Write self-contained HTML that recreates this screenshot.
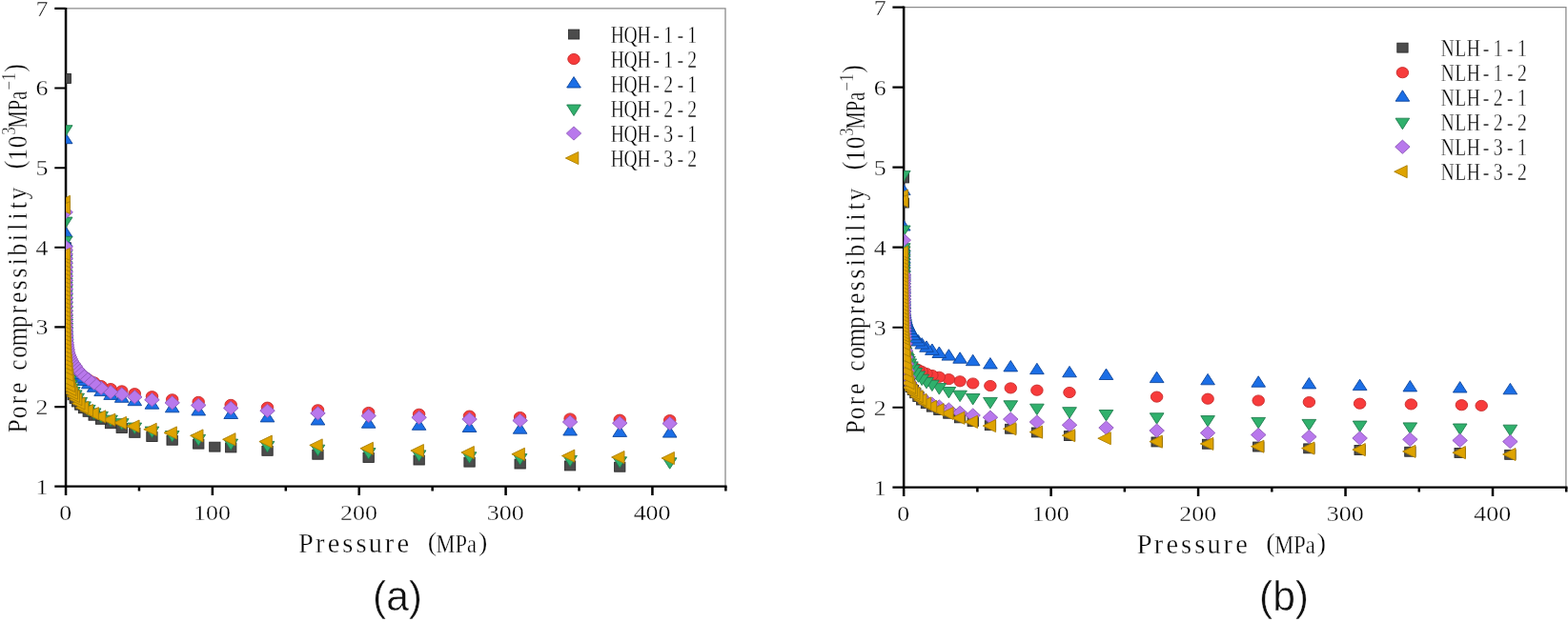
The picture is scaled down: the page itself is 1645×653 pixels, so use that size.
<!DOCTYPE html>
<html lang="en">
<head>
<meta charset="utf-8">
<title>Pore compressibility versus pressure</title>
<style>
html,body{margin:0;padding:0;background:#fff}
body{width:1645px;height:653px;overflow:hidden}
svg{display:block}
text{white-space:pre;fill:#000;font-family:"Liberation Serif",serif}
.thin{stroke:#fff;stroke-width:0.35px}
.tick{font-size:23.6px;text-anchor:middle}
.cap{font-family:"Liberation Sans",sans-serif;font-size:42.6px;text-anchor:middle;fill:#111;stroke:#fff;stroke-width:0.5px}
.sq{fill:#4c4c4c;stroke:#2b2b2b;stroke-width:0.9px}
.ci{fill:#f73b3b;stroke:#c62d2d;stroke-width:0.9px}
.up{fill:#1b6ee6;stroke:#0f459a;stroke-width:0.9px}
.dn{fill:#30b06c;stroke:#1f7d4e;stroke-width:0.9px}
.di{fill:#b878ec;stroke:#8d59b9;stroke-width:0.9px}
.lt{fill:#dea300;stroke:#aa7f04;stroke-width:0.9px}
</style>
</head>
<body>
<svg width="1645" height="653" viewBox="0 0 1645 653" role="img" aria-label="Pore compressibility versus pressure for HQH and NLH samples">
<rect width="1645" height="653" fill="#fff"/>
<g id="plot-a">
<path d="M68.7 8.9H761.0V510.7" fill="none" stroke="#8c8c8c" stroke-width="1.3"/>
<path d="M69.05 7.9V520.1" fill="none" stroke="#000" stroke-width="2.5"/>
<path d="M57.3 510.7H762.6" fill="none" stroke="#000" stroke-width="2.3"/>
<path d="M57.3 427.1H68.7M57.3 343.4H68.7M57.3 259.8H68.7M57.3 176.2H68.7M57.3 92.5H68.7M57.3 8.9H68.7" fill="none" stroke="#000" stroke-width="2.1"/>
<path d="M222.89 510.7V520.1M376.74 510.7V520.1M530.58 510.7V520.1M684.43 510.7V520.1M145.97 510.7V515.5M299.82 510.7V515.5M453.66 510.7V515.5M607.51 510.7V515.5M761.35 510.7V515.5" fill="none" stroke="#000" stroke-width="2.5"/>
<clipPath id="clip-a"><rect x="69.2" y="8.9" width="692.3" height="501.8"/></clipPath>
<g clip-path="url(#clip-a)">
<rect class="sq" x="644.6" y="485.3" width="11.3" height="9.9"/>
<rect class="sq" x="592.4" y="484.0" width="11.3" height="9.9"/>
<rect class="sq" x="540.0" y="482.1" width="11.3" height="9.9"/>
<rect class="sq" x="486.9" y="480.2" width="11.3" height="9.9"/>
<rect class="sq" x="434.0" y="478.1" width="11.3" height="9.9"/>
<rect class="sq" x="381.0" y="475.5" width="11.3" height="9.9"/>
<rect class="sq" x="327.8" y="472.3" width="11.3" height="9.9"/>
<rect class="sq" x="274.9" y="468.4" width="11.3" height="9.9"/>
<rect class="sq" x="236.6" y="465.0" width="11.3" height="9.9"/>
<rect class="sq" x="202.6" y="461.2" width="11.3" height="9.9"/>
<rect class="sq" x="175.0" y="457.3" width="11.3" height="9.9"/>
<rect class="sq" x="153.8" y="453.6" width="11.3" height="9.9"/>
<rect class="sq" x="135.7" y="449.4" width="11.3" height="9.9"/>
<rect class="sq" x="122.1" y="444.5" width="11.3" height="9.9"/>
<rect class="sq" x="110.4" y="439.8" width="11.3" height="9.9"/>
<rect class="sq" x="100.4" y="435.4" width="11.3" height="9.9"/>
<rect class="sq" x="93.0" y="431.3" width="11.3" height="9.9"/>
<rect class="sq" x="87.1" y="427.4" width="11.3" height="9.9"/>
<rect class="sq" x="82.4" y="423.8" width="11.3" height="9.9"/>
<rect class="sq" x="78.6" y="420.3" width="11.3" height="9.9"/>
<rect class="sq" x="75.5" y="417.0" width="11.3" height="9.9"/>
<rect class="sq" x="73.1" y="413.5" width="11.3" height="9.9"/>
<rect class="sq" x="71.1" y="409.8" width="11.3" height="9.9"/>
<rect class="sq" x="69.5" y="406.1" width="11.3" height="9.9"/>
<rect class="sq" x="68.2" y="402.4" width="11.3" height="9.9"/>
<rect class="sq" x="67.2" y="398.5" width="11.3" height="9.9"/>
<rect class="sq" x="66.4" y="394.5" width="11.3" height="9.9"/>
<rect class="sq" x="65.7" y="390.5" width="11.3" height="9.9"/>
<rect class="sq" x="65.2" y="386.5" width="11.3" height="9.9"/>
<rect class="sq" x="64.8" y="382.5" width="11.3" height="9.9"/>
<rect class="sq" x="64.4" y="377.6" width="11.3" height="9.9"/>
<rect class="sq" x="64.2" y="371.5" width="11.3" height="9.9"/>
<rect class="sq" x="64.0" y="365.4" width="11.3" height="9.9"/>
<rect class="sq" x="63.8" y="359.3" width="11.3" height="9.9"/>
<rect class="sq" x="63.6" y="353.2" width="11.3" height="9.9"/>
<rect class="sq" x="63.5" y="347.1" width="11.3" height="9.9"/>
<rect class="sq" x="63.4" y="342.4" width="11.3" height="9.9"/>
<rect class="sq" x="63.4" y="337.7" width="11.3" height="9.9"/>
<rect class="sq" x="63.3" y="333.1" width="11.3" height="9.9"/>
<rect class="sq" x="63.2" y="328.4" width="11.3" height="9.9"/>
<rect class="sq" x="63.2" y="323.7" width="11.3" height="9.9"/>
<rect class="sq" x="63.2" y="319.1" width="11.3" height="9.9"/>
<rect class="sq" x="63.2" y="314.4" width="11.3" height="9.9"/>
<rect class="sq" x="63.1" y="309.7" width="11.3" height="9.9"/>
<rect class="sq" x="63.1" y="305.1" width="11.3" height="9.9"/>
<rect class="sq" x="63.1" y="300.4" width="11.3" height="9.9"/>
<rect class="sq" x="63.1" y="295.7" width="11.3" height="9.9"/>
<rect class="sq" x="63.1" y="291.0" width="11.3" height="9.9"/>
<rect class="sq" x="63.1" y="286.4" width="11.3" height="9.9"/>
<rect class="sq" x="63.1" y="281.7" width="11.3" height="9.9"/>
<rect class="sq" x="63.1" y="277.0" width="11.3" height="9.9"/>
<rect class="sq" x="63.1" y="272.4" width="11.3" height="9.9"/>
<rect class="sq" x="63.1" y="267.7" width="11.3" height="9.9"/>
<rect class="sq" x="63.1" y="263.0" width="11.3" height="9.9"/>
<rect class="sq" x="63.1" y="258.4" width="11.3" height="9.9"/>
<rect class="sq" x="63.1" y="254.8" width="11.3" height="9.9"/>
<rect class="sq" x="63.1" y="77.5" width="11.3" height="9.9"/>
<rect class="sq" x="219.7" y="464.2" width="11.3" height="9.9"/>
<ellipse class="ci" cx="702.7" cy="441.1" rx="6.25" ry="5.60"/>
<ellipse class="ci" cx="650.2" cy="440.7" rx="6.25" ry="5.60"/>
<ellipse class="ci" cx="598.1" cy="439.5" rx="6.25" ry="5.60"/>
<ellipse class="ci" cx="545.6" cy="438.0" rx="6.25" ry="5.60"/>
<ellipse class="ci" cx="492.5" cy="436.6" rx="6.25" ry="5.60"/>
<ellipse class="ci" cx="439.6" cy="434.8" rx="6.25" ry="5.60"/>
<ellipse class="ci" cx="386.7" cy="433.0" rx="6.25" ry="5.60"/>
<ellipse class="ci" cx="333.5" cy="430.3" rx="6.25" ry="5.60"/>
<ellipse class="ci" cx="280.5" cy="427.7" rx="6.25" ry="5.60"/>
<ellipse class="ci" cx="242.2" cy="424.9" rx="6.25" ry="5.60"/>
<ellipse class="ci" cx="208.2" cy="421.9" rx="6.25" ry="5.60"/>
<ellipse class="ci" cx="180.7" cy="419.3" rx="6.25" ry="5.60"/>
<ellipse class="ci" cx="159.5" cy="416.2" rx="6.25" ry="5.60"/>
<ellipse class="ci" cx="141.3" cy="413.2" rx="6.25" ry="5.60"/>
<ellipse class="ci" cx="127.8" cy="410.4" rx="6.25" ry="5.60"/>
<ellipse class="ci" cx="116.1" cy="408.1" rx="6.25" ry="5.60"/>
<ellipse class="ci" cx="106.1" cy="405.1" rx="6.25" ry="5.60"/>
<ellipse class="ci" cx="98.7" cy="401.4" rx="6.25" ry="5.60"/>
<ellipse class="ci" cx="92.8" cy="398.5" rx="6.25" ry="5.60"/>
<ellipse class="ci" cx="88.1" cy="395.5" rx="6.25" ry="5.60"/>
<ellipse class="ci" cx="84.2" cy="392.3" rx="6.25" ry="5.60"/>
<ellipse class="ci" cx="81.2" cy="388.7" rx="6.25" ry="5.60"/>
<ellipse class="ci" cx="78.7" cy="385.2" rx="6.25" ry="5.60"/>
<ellipse class="ci" cx="76.8" cy="382.6" rx="6.25" ry="5.60"/>
<ellipse class="ci" cx="75.2" cy="380.0" rx="6.25" ry="5.60"/>
<ellipse class="ci" cx="73.9" cy="377.6" rx="6.25" ry="5.60"/>
<ellipse class="ci" cx="72.9" cy="375.4" rx="6.25" ry="5.60"/>
<ellipse class="ci" cx="72.1" cy="373.1" rx="6.25" ry="5.60"/>
<ellipse class="ci" cx="71.4" cy="370.5" rx="6.25" ry="5.60"/>
<ellipse class="ci" cx="70.9" cy="367.9" rx="6.25" ry="5.60"/>
<ellipse class="ci" cx="70.4" cy="365.3" rx="6.25" ry="5.60"/>
<ellipse class="ci" cx="70.1" cy="362.9" rx="6.25" ry="5.60"/>
<ellipse class="ci" cx="69.8" cy="360.6" rx="6.25" ry="5.60"/>
<ellipse class="ci" cx="69.6" cy="357.1" rx="6.25" ry="5.60"/>
<ellipse class="ci" cx="69.4" cy="353.3" rx="6.25" ry="5.60"/>
<ellipse class="ci" cx="69.3" cy="349.5" rx="6.25" ry="5.60"/>
<ellipse class="ci" cx="69.2" cy="345.8" rx="6.25" ry="5.60"/>
<ellipse class="ci" cx="69.1" cy="342.0" rx="6.25" ry="5.60"/>
<ellipse class="ci" cx="69.0" cy="338.2" rx="6.25" ry="5.60"/>
<ellipse class="ci" cx="68.9" cy="334.5" rx="6.25" ry="5.60"/>
<ellipse class="ci" cx="68.9" cy="330.7" rx="6.25" ry="5.60"/>
<ellipse class="ci" cx="68.9" cy="326.9" rx="6.25" ry="5.60"/>
<ellipse class="ci" cx="68.8" cy="322.4" rx="6.25" ry="5.60"/>
<ellipse class="ci" cx="68.8" cy="317.9" rx="6.25" ry="5.60"/>
<ellipse class="ci" cx="68.8" cy="313.3" rx="6.25" ry="5.60"/>
<ellipse class="ci" cx="68.8" cy="308.8" rx="6.25" ry="5.60"/>
<ellipse class="ci" cx="68.8" cy="304.2" rx="6.25" ry="5.60"/>
<ellipse class="ci" cx="68.7" cy="299.7" rx="6.25" ry="5.60"/>
<ellipse class="ci" cx="68.7" cy="295.1" rx="6.25" ry="5.60"/>
<ellipse class="ci" cx="68.7" cy="290.6" rx="6.25" ry="5.60"/>
<ellipse class="ci" cx="68.7" cy="286.0" rx="6.25" ry="5.60"/>
<ellipse class="ci" cx="68.7" cy="281.4" rx="6.25" ry="5.60"/>
<ellipse class="ci" cx="68.7" cy="276.9" rx="6.25" ry="5.60"/>
<ellipse class="ci" cx="68.7" cy="272.3" rx="6.25" ry="5.60"/>
<ellipse class="ci" cx="68.7" cy="267.8" rx="6.25" ry="5.60"/>
<ellipse class="ci" cx="68.7" cy="263.2" rx="6.25" ry="5.60"/>
<ellipse class="ci" cx="68.7" cy="259.8" rx="6.25" ry="5.60"/>
<path class="up" d="M695.4 459.1L710.0 459.1L702.7 447.6Z"/>
<path class="up" d="M642.9 458.4L657.6 458.4L650.2 447.0Z"/>
<path class="up" d="M590.8 457.0L605.4 457.0L598.1 445.6Z"/>
<path class="up" d="M538.3 455.2L552.9 455.2L545.6 443.8Z"/>
<path class="up" d="M485.2 453.5L499.9 453.5L492.5 442.1Z"/>
<path class="up" d="M432.3 451.3L446.9 451.3L439.6 439.9Z"/>
<path class="up" d="M379.4 449.2L394.0 449.2L386.7 437.8Z"/>
<path class="up" d="M326.1 446.0L340.8 446.0L333.5 434.6Z"/>
<path class="up" d="M273.2 442.9L287.9 442.9L280.5 431.5Z"/>
<path class="up" d="M234.9 439.5L249.6 439.5L242.2 428.1Z"/>
<path class="up" d="M200.9 436.0L215.6 436.0L208.2 424.5Z"/>
<path class="up" d="M173.4 432.8L188.0 432.8L180.7 421.4Z"/>
<path class="up" d="M152.1 429.2L166.8 429.2L159.5 417.8Z"/>
<path class="up" d="M134.0 425.7L148.6 425.7L141.3 414.2Z"/>
<path class="up" d="M120.4 422.3L135.1 422.3L127.8 410.9Z"/>
<path class="up" d="M108.8 419.4L123.4 419.4L116.1 407.9Z"/>
<path class="up" d="M98.8 415.6L113.4 415.6L106.1 404.2Z"/>
<path class="up" d="M91.4 411.3L106.0 411.3L98.7 399.9Z"/>
<path class="up" d="M85.5 407.8L100.1 407.8L92.8 396.4Z"/>
<path class="up" d="M80.7 404.5L95.4 404.5L88.1 393.1Z"/>
<path class="up" d="M76.9 401.3L91.6 401.3L84.2 389.9Z"/>
<path class="up" d="M73.9 397.7L88.5 397.7L81.2 386.3Z"/>
<path class="up" d="M71.4 394.2L86.1 394.2L78.7 382.8Z"/>
<path class="up" d="M69.4 391.7L84.1 391.7L76.8 380.2Z"/>
<path class="up" d="M67.8 389.1L82.5 389.1L75.2 377.6Z"/>
<path class="up" d="M66.6 386.7L81.2 386.7L73.9 375.3Z"/>
<path class="up" d="M65.5 384.4L80.2 384.4L72.9 373.0Z"/>
<path class="up" d="M64.7 382.2L79.4 382.2L72.1 370.7Z"/>
<path class="up" d="M64.1 379.6L78.7 379.6L71.4 368.2Z"/>
<path class="up" d="M63.5 377.0L78.2 377.0L70.9 365.6Z"/>
<path class="up" d="M63.1 374.4L77.8 374.4L70.4 363.0Z"/>
<path class="up" d="M62.8 372.0L77.4 372.0L70.1 360.6Z"/>
<path class="up" d="M62.5 369.7L77.1 369.7L69.8 358.2Z"/>
<path class="up" d="M62.3 366.1L76.9 366.1L69.6 354.7Z"/>
<path class="up" d="M62.1 362.4L76.7 362.4L69.4 351.0Z"/>
<path class="up" d="M62.0 358.6L76.6 358.6L69.3 347.2Z"/>
<path class="up" d="M61.8 354.8L76.5 354.8L69.2 343.4Z"/>
<path class="up" d="M61.7 351.1L76.4 351.1L69.1 339.7Z"/>
<path class="up" d="M61.7 347.3L76.3 347.3L69.0 335.9Z"/>
<path class="up" d="M61.6 343.5L76.3 343.5L68.9 332.1Z"/>
<path class="up" d="M61.6 339.8L76.2 339.8L68.9 328.4Z"/>
<path class="up" d="M61.5 336.0L76.2 336.0L68.9 324.6Z"/>
<path class="up" d="M61.5 331.5L76.2 331.5L68.8 320.1Z"/>
<path class="up" d="M61.5 327.0L76.1 327.0L68.8 315.5Z"/>
<path class="up" d="M61.5 322.4L76.1 322.4L68.8 311.0Z"/>
<path class="up" d="M61.4 317.8L76.1 317.8L68.8 306.4Z"/>
<path class="up" d="M61.4 313.3L76.1 313.3L68.8 301.9Z"/>
<path class="up" d="M61.4 308.7L76.1 308.7L68.7 297.3Z"/>
<path class="up" d="M61.4 304.2L76.1 304.2L68.7 292.8Z"/>
<path class="up" d="M61.4 299.6L76.1 299.6L68.7 288.2Z"/>
<path class="up" d="M61.4 295.1L76.0 295.1L68.7 283.6Z"/>
<path class="up" d="M61.4 290.5L76.0 290.5L68.7 279.1Z"/>
<path class="up" d="M61.4 286.0L76.0 286.0L68.7 274.5Z"/>
<path class="up" d="M61.4 281.4L76.0 281.4L68.7 270.0Z"/>
<path class="up" d="M61.4 276.8L76.0 276.8L68.7 265.4Z"/>
<path class="up" d="M61.4 272.3L76.0 272.3L68.7 260.9Z"/>
<path class="up" d="M61.4 268.9L76.0 268.9L68.7 257.5Z"/>
<path class="up" d="M61.4 150.7L76.0 150.7L68.7 139.3Z"/>
<path class="up" d="M61.4 248.8L76.0 248.8L68.7 237.4Z"/>
<path class="up" d="M61.4 258.8L76.0 258.8L68.7 247.4Z"/>
<path class="dn" d="M695.4 480.8L710.0 480.8L702.7 492.2Z"/>
<path class="dn" d="M642.9 479.8L657.6 479.8L650.2 491.2Z"/>
<path class="dn" d="M590.8 478.4L605.4 478.4L598.1 489.8Z"/>
<path class="dn" d="M538.3 476.6L552.9 476.6L545.6 488.1Z"/>
<path class="dn" d="M485.2 474.8L499.9 474.8L492.5 486.2Z"/>
<path class="dn" d="M432.3 472.9L446.9 472.9L439.6 484.3Z"/>
<path class="dn" d="M379.4 470.6L394.0 470.6L386.7 482.0Z"/>
<path class="dn" d="M326.1 467.2L340.8 467.2L333.5 478.6Z"/>
<path class="dn" d="M273.2 463.4L287.9 463.4L280.5 474.8Z"/>
<path class="dn" d="M234.9 461.1L249.6 461.1L242.2 472.5Z"/>
<path class="dn" d="M200.9 456.4L215.6 456.4L208.2 467.9Z"/>
<path class="dn" d="M173.4 452.5L188.0 452.5L180.7 463.9Z"/>
<path class="dn" d="M152.1 448.1L166.8 448.1L159.5 459.5Z"/>
<path class="dn" d="M134.0 444.1L148.6 444.1L141.3 455.5Z"/>
<path class="dn" d="M120.4 439.7L135.1 439.7L127.8 451.2Z"/>
<path class="dn" d="M108.8 436.2L123.4 436.2L116.1 447.6Z"/>
<path class="dn" d="M98.8 432.4L113.4 432.4L106.1 443.8Z"/>
<path class="dn" d="M91.4 428.9L106.0 428.9L98.7 440.3Z"/>
<path class="dn" d="M85.5 425.4L100.1 425.4L92.8 436.8Z"/>
<path class="dn" d="M80.7 421.9L95.4 421.9L88.1 433.3Z"/>
<path class="dn" d="M76.9 417.5L91.6 417.5L84.2 428.9Z"/>
<path class="dn" d="M73.9 413.2L88.5 413.2L81.2 424.7Z"/>
<path class="dn" d="M71.4 409.9L86.1 409.9L78.7 421.3Z"/>
<path class="dn" d="M69.4 406.6L84.1 406.6L76.8 418.0Z"/>
<path class="dn" d="M67.8 403.1L82.5 403.1L75.2 414.5Z"/>
<path class="dn" d="M66.6 399.3L81.2 399.3L73.9 410.7Z"/>
<path class="dn" d="M65.5 394.5L80.2 394.5L72.9 405.9Z"/>
<path class="dn" d="M64.7 388.6L79.4 388.6L72.1 400.0Z"/>
<path class="dn" d="M64.1 382.6L78.7 382.6L71.4 394.1Z"/>
<path class="dn" d="M63.5 378.3L78.2 378.3L70.9 389.7Z"/>
<path class="dn" d="M63.1 374.0L77.8 374.0L70.4 385.4Z"/>
<path class="dn" d="M62.8 369.7L77.4 369.7L70.1 381.1Z"/>
<path class="dn" d="M62.5 365.4L77.1 365.4L69.8 376.8Z"/>
<path class="dn" d="M62.3 361.0L76.9 361.0L69.6 372.5Z"/>
<path class="dn" d="M62.1 356.7L76.7 356.7L69.4 368.1Z"/>
<path class="dn" d="M62.0 352.4L76.6 352.4L69.3 363.8Z"/>
<path class="dn" d="M61.8 348.1L76.5 348.1L69.2 359.5Z"/>
<path class="dn" d="M61.7 343.8L76.4 343.8L69.1 355.2Z"/>
<path class="dn" d="M61.7 339.4L76.3 339.4L69.0 350.9Z"/>
<path class="dn" d="M61.6 335.1L76.3 335.1L68.9 346.6Z"/>
<path class="dn" d="M61.6 330.8L76.2 330.8L68.9 342.2Z"/>
<path class="dn" d="M61.5 326.5L76.2 326.5L68.9 337.9Z"/>
<path class="dn" d="M61.5 322.2L76.2 322.2L68.8 333.6Z"/>
<path class="dn" d="M61.5 317.9L76.1 317.9L68.8 329.3Z"/>
<path class="dn" d="M61.5 313.6L76.1 313.6L68.8 325.0Z"/>
<path class="dn" d="M61.4 309.3L76.1 309.3L68.8 320.7Z"/>
<path class="dn" d="M61.4 305.0L76.1 305.0L68.8 316.4Z"/>
<path class="dn" d="M61.4 300.7L76.1 300.7L68.7 312.1Z"/>
<path class="dn" d="M61.4 296.4L76.1 296.4L68.7 307.8Z"/>
<path class="dn" d="M61.4 292.0L76.1 292.0L68.7 303.5Z"/>
<path class="dn" d="M61.4 287.7L76.0 287.7L68.7 299.2Z"/>
<path class="dn" d="M61.4 283.4L76.0 283.4L68.7 294.8Z"/>
<path class="dn" d="M61.4 279.1L76.0 279.1L68.7 290.5Z"/>
<path class="dn" d="M61.4 274.8L76.0 274.8L68.7 286.2Z"/>
<path class="dn" d="M61.4 270.5L76.0 270.5L68.7 281.9Z"/>
<path class="dn" d="M61.4 266.2L76.0 266.2L68.7 277.6Z"/>
<path class="dn" d="M61.4 263.0L76.0 263.0L68.7 274.4Z"/>
<path class="dn" d="M61.4 131.7L76.0 131.7L68.7 143.1Z"/>
<path class="dn" d="M61.4 228.1L76.0 228.1L68.7 239.5Z"/>
<path class="dn" d="M61.4 248.3L76.0 248.3L68.7 259.7Z"/>
<path class="di" d="M695.0 444.6L702.7 437.5L710.4 444.6L702.7 451.7Z"/>
<path class="di" d="M642.5 444.2L650.2 437.1L658.0 444.2L650.2 451.3Z"/>
<path class="di" d="M590.3 443.0L598.1 436.0L605.8 443.0L598.1 450.1Z"/>
<path class="di" d="M537.9 441.5L545.6 434.4L553.4 441.5L545.6 448.6Z"/>
<path class="di" d="M484.8 440.1L492.5 433.0L500.3 440.1L492.5 447.2Z"/>
<path class="di" d="M431.9 438.3L439.6 431.2L447.4 438.3L439.6 445.4Z"/>
<path class="di" d="M379.0 436.5L386.7 429.4L394.4 436.5L386.7 443.6Z"/>
<path class="di" d="M325.7 433.8L333.5 426.8L341.2 433.8L333.5 440.9Z"/>
<path class="di" d="M272.8 431.2L280.5 424.2L288.3 431.2L280.5 438.3Z"/>
<path class="di" d="M234.5 428.4L242.2 421.3L250.0 428.4L242.2 435.5Z"/>
<path class="di" d="M200.5 425.4L208.2 418.3L216.0 425.4L208.2 432.5Z"/>
<path class="di" d="M173.0 422.8L180.7 415.7L188.4 422.8L180.7 429.9Z"/>
<path class="di" d="M151.7 419.7L159.5 412.6L167.2 419.7L159.5 426.8Z"/>
<path class="di" d="M133.6 416.8L141.3 409.7L149.0 416.8L141.3 423.8Z"/>
<path class="di" d="M120.0 413.9L127.8 406.8L135.5 413.9L127.8 421.0Z"/>
<path class="di" d="M108.4 411.6L116.1 404.5L123.8 411.6L116.1 418.7Z"/>
<path class="di" d="M98.4 407.3L106.1 400.2L113.8 407.3L106.1 414.4Z"/>
<path class="di" d="M91.0 402.2L98.7 395.2L106.4 402.2L98.7 409.3Z"/>
<path class="di" d="M85.1 398.2L92.8 391.1L100.5 398.2L92.8 405.3Z"/>
<path class="di" d="M80.3 394.6L88.1 387.5L95.8 394.6L88.1 401.7Z"/>
<path class="di" d="M76.5 391.4L84.2 384.3L92.0 391.4L84.2 398.5Z"/>
<path class="di" d="M73.5 387.8L81.2 380.7L88.9 387.8L81.2 394.9Z"/>
<path class="di" d="M71.0 384.3L78.7 377.3L86.5 384.3L78.7 391.4Z"/>
<path class="di" d="M69.0 381.7L76.8 374.7L84.5 381.7L76.8 388.8Z"/>
<path class="di" d="M67.4 379.2L75.2 372.1L82.9 379.2L75.2 386.2Z"/>
<path class="di" d="M66.2 376.8L73.9 369.7L81.6 376.8L73.9 383.9Z"/>
<path class="di" d="M65.1 374.5L72.9 367.4L80.6 374.5L72.9 381.6Z"/>
<path class="di" d="M64.3 372.3L72.1 365.2L79.8 372.3L72.1 379.3Z"/>
<path class="di" d="M63.7 369.7L71.4 362.6L79.1 369.7L71.4 376.8Z"/>
<path class="di" d="M63.1 367.1L70.9 360.0L78.6 367.1L70.9 374.2Z"/>
<path class="di" d="M62.7 364.5L70.4 357.4L78.2 364.5L70.4 371.6Z"/>
<path class="di" d="M62.4 362.1L70.1 355.0L77.8 362.1L70.1 369.2Z"/>
<path class="di" d="M62.1 359.8L69.8 352.7L77.6 359.8L69.8 366.8Z"/>
<path class="di" d="M61.9 356.2L69.6 349.2L77.3 356.2L69.6 363.3Z"/>
<path class="di" d="M61.7 352.5L69.4 345.4L77.2 352.5L69.4 359.6Z"/>
<path class="di" d="M61.5 348.7L69.3 341.6L77.0 348.7L69.3 355.8Z"/>
<path class="di" d="M61.4 344.9L69.2 337.9L76.9 344.9L69.2 352.0Z"/>
<path class="di" d="M61.3 341.2L69.1 334.1L76.8 341.2L69.1 348.3Z"/>
<path class="di" d="M61.3 337.4L69.0 330.3L76.7 337.4L69.0 344.5Z"/>
<path class="di" d="M61.2 333.6L68.9 326.6L76.7 333.6L68.9 340.7Z"/>
<path class="di" d="M61.2 329.9L68.9 322.8L76.6 329.9L68.9 337.0Z"/>
<path class="di" d="M61.1 326.1L68.9 319.0L76.6 326.1L68.9 333.2Z"/>
<path class="di" d="M61.1 321.6L68.8 314.5L76.6 321.6L68.8 328.7Z"/>
<path class="di" d="M61.1 317.0L68.8 310.0L76.5 317.0L68.8 324.1Z"/>
<path class="di" d="M61.0 312.5L68.8 305.4L76.5 312.5L68.8 319.6Z"/>
<path class="di" d="M61.0 307.9L68.8 300.8L76.5 307.9L68.8 315.0Z"/>
<path class="di" d="M61.0 303.4L68.8 296.3L76.5 303.4L68.8 310.5Z"/>
<path class="di" d="M61.0 298.8L68.7 291.7L76.5 298.8L68.7 305.9Z"/>
<path class="di" d="M61.0 294.3L68.7 287.2L76.5 294.3L68.7 301.4Z"/>
<path class="di" d="M61.0 289.7L68.7 282.6L76.5 289.7L68.7 296.8Z"/>
<path class="di" d="M61.0 285.2L68.7 278.1L76.5 285.2L68.7 292.3Z"/>
<path class="di" d="M61.0 280.6L68.7 273.5L76.5 280.6L68.7 287.7Z"/>
<path class="di" d="M61.0 276.1L68.7 269.0L76.4 276.1L68.7 283.1Z"/>
<path class="di" d="M61.0 271.5L68.7 264.4L76.4 271.5L68.7 278.6Z"/>
<path class="di" d="M61.0 266.9L68.7 259.9L76.4 266.9L68.7 274.0Z"/>
<path class="di" d="M61.0 262.4L68.7 255.3L76.4 262.4L68.7 269.5Z"/>
<path class="di" d="M61.0 259.0L68.7 251.9L76.4 259.0L68.7 266.1Z"/>
<path class="di" d="M61.0 222.8L68.7 215.7L76.4 222.8L68.7 229.8Z"/>
<path class="lt" d="M694.0 481.0L707.4 474.5L707.4 487.5Z"/>
<path class="lt" d="M641.6 480.0L655.0 473.5L655.0 486.5Z"/>
<path class="lt" d="M589.4 478.6L602.8 472.1L602.8 485.1Z"/>
<path class="lt" d="M536.9 476.8L550.4 470.3L550.4 483.4Z"/>
<path class="lt" d="M483.9 475.0L497.3 468.5L497.3 481.5Z"/>
<path class="lt" d="M430.9 473.1L444.4 466.5L444.4 479.6Z"/>
<path class="lt" d="M378.0 470.8L391.4 464.3L391.4 477.3Z"/>
<path class="lt" d="M324.8 467.4L338.2 460.9L338.2 473.9Z"/>
<path class="lt" d="M271.9 463.6L285.3 457.1L285.3 470.1Z"/>
<path class="lt" d="M233.6 461.3L247.0 454.7L247.0 467.8Z"/>
<path class="lt" d="M199.6 457.4L213.0 450.9L213.0 464.0Z"/>
<path class="lt" d="M172.0 454.4L185.4 447.9L185.4 460.9Z"/>
<path class="lt" d="M150.8 450.8L164.2 444.3L164.2 457.3Z"/>
<path class="lt" d="M132.6 447.5L146.1 441.0L146.1 454.1Z"/>
<path class="lt" d="M119.1 443.9L132.5 437.4L132.5 450.4Z"/>
<path class="lt" d="M107.4 440.7L120.8 434.2L120.8 447.2Z"/>
<path class="lt" d="M97.4 437.3L110.8 430.8L110.8 443.8Z"/>
<path class="lt" d="M90.0 434.1L103.4 427.6L103.4 440.7Z"/>
<path class="lt" d="M84.1 431.0L97.5 424.5L97.5 437.5Z"/>
<path class="lt" d="M79.4 427.9L92.8 421.3L92.8 434.4Z"/>
<path class="lt" d="M75.6 423.6L89.0 417.0L89.0 430.1Z"/>
<path class="lt" d="M72.5 419.3L85.9 412.7L85.9 425.8Z"/>
<path class="lt" d="M70.1 415.9L83.5 409.4L83.5 422.5Z"/>
<path class="lt" d="M68.1 412.6L81.5 406.1L81.5 419.2Z"/>
<path class="lt" d="M66.5 409.1L79.9 402.6L79.9 415.6Z"/>
<path class="lt" d="M65.2 405.0L78.6 398.5L78.6 411.5Z"/>
<path class="lt" d="M64.2 399.9L77.6 393.4L77.6 406.5Z"/>
<path class="lt" d="M63.4 393.7L76.8 387.2L76.8 400.2Z"/>
<path class="lt" d="M62.7 387.4L76.1 380.9L76.1 394.0Z"/>
<path class="lt" d="M62.2 382.9L75.6 376.4L75.6 389.4Z"/>
<path class="lt" d="M61.8 378.4L75.2 371.9L75.2 384.9Z"/>
<path class="lt" d="M61.4 373.9L74.8 367.3L74.8 380.4Z"/>
<path class="lt" d="M61.1 369.3L74.6 362.8L74.6 375.9Z"/>
<path class="lt" d="M60.9 365.0L74.4 358.5L74.4 371.5Z"/>
<path class="lt" d="M60.8 360.7L74.2 354.1L74.2 367.2Z"/>
<path class="lt" d="M60.6 356.3L74.0 349.8L74.0 362.9Z"/>
<path class="lt" d="M60.5 352.0L73.9 345.5L73.9 358.5Z"/>
<path class="lt" d="M60.4 347.7L73.8 341.2L73.8 354.2Z"/>
<path class="lt" d="M60.3 343.4L73.8 336.9L73.8 349.9Z"/>
<path class="lt" d="M60.3 339.1L73.7 332.6L73.7 345.6Z"/>
<path class="lt" d="M60.2 334.8L73.6 328.2L73.6 341.3Z"/>
<path class="lt" d="M60.2 330.5L73.6 323.9L73.6 337.0Z"/>
<path class="lt" d="M60.2 326.2L73.6 319.6L73.6 332.7Z"/>
<path class="lt" d="M60.1 321.8L73.6 315.3L73.6 328.4Z"/>
<path class="lt" d="M60.1 317.5L73.5 311.0L73.5 324.1Z"/>
<path class="lt" d="M60.1 313.2L73.5 306.7L73.5 319.8Z"/>
<path class="lt" d="M60.1 308.9L73.5 302.4L73.5 315.5Z"/>
<path class="lt" d="M60.1 304.6L73.5 298.1L73.5 311.1Z"/>
<path class="lt" d="M60.1 300.3L73.5 293.8L73.5 306.8Z"/>
<path class="lt" d="M60.1 296.0L73.5 289.5L73.5 302.5Z"/>
<path class="lt" d="M60.1 291.7L73.5 285.2L73.5 298.2Z"/>
<path class="lt" d="M60.0 287.4L73.5 280.9L73.5 293.9Z"/>
<path class="lt" d="M60.0 283.1L73.5 276.5L73.5 289.6Z"/>
<path class="lt" d="M60.0 278.8L73.5 272.2L73.5 285.3Z"/>
<path class="lt" d="M60.0 274.5L73.5 267.9L73.5 281.0Z"/>
<path class="lt" d="M60.0 270.1L73.5 263.6L73.5 276.7Z"/>
<path class="lt" d="M60.0 266.9L73.5 260.4L73.5 273.4Z"/>
<path class="lt" d="M60.0 211.9L73.5 205.3L73.5 218.4Z"/>
<path class="lt" d="M60.0 218.0L73.5 211.5L73.5 224.5Z"/>
</g>
<g class="thin tick">
<text transform="translate(44.1 518.6) scale(1.1 1)">1</text>
<text transform="translate(44.1 435.0) scale(1.1 1)">2</text>
<text transform="translate(44.1 351.3) scale(1.1 1)">3</text>
<text transform="translate(44.1 267.7) scale(1.1 1)">4</text>
<text transform="translate(44.1 184.1) scale(1.1 1)">5</text>
<text transform="translate(44.1 100.4) scale(1.1 1)">6</text>
<text transform="translate(44.1 16.8) scale(1.1 1)">7</text>
<text transform="translate(68.7 546.0) scale(1.1 1)">0</text>
<text transform="translate(222.5 546.0) scale(1.1 1)">100</text>
<text transform="translate(376.4 546.0) scale(1.1 1)">200</text>
<text transform="translate(530.2 546.0) scale(1.1 1)">300</text>
<text transform="translate(684.1 546.0) scale(1.1 1)">400</text>
</g>
<text class="thin" font-size="28.4" y="580.4"><tspan x="312.96 331.06 343.79 359.19 373.50 386.86 403.85 416.58 434.95">Pressure </tspan><tspan x="448.64" y="578.0" font-size="28">(</tspan><tspan x="457.49" y="580.4" font-size="28" textLength="42.41" lengthAdjust="spacingAndGlyphs">MPa</tspan><tspan x="502.04" y="578.0" font-size="28">)</tspan></text>
<text class="thin" transform="translate(28.3 0) rotate(-90) scale(0.85 1)" font-size="30" y="0"><tspan x="-534.68 -516.89 -499.11 -485.92 -468.78 -457.46 -442.20 -427.76 -404.98 -387.21 -374.02 -357.93 -343.06 -327.37 -315.84 -297.65 -284.46 -271.26 -258.07 -246.54 -226.10">Pore compressibility </tspan><tspan x="-208.41" y="-3">(</tspan><tspan x="-198.44 -182.68" y="0">10</tspan><tspan x="-166.88" y="-12.3" font-size="20">3</tspan><tspan x="-158.28" y="0" textLength="45.64" lengthAdjust="spacingAndGlyphs">MPa</tspan><tspan x="-111.05 -99.82" y="-12.3" font-size="20">−1</tspan><tspan x="-89.23" y="-3">)</tspan></text>
<rect class="sq" x="596.4" y="31.1" width="11.3" height="9.9"/>
<text class="thin" transform="translate(0 44.6) scale(0.8 1)" x="801.05 818.28 835.52 856.58 870.26 888.04 901.72" font-size="24.6">HQH-1-1</text>
<ellipse class="ci" cx="602.0" cy="62.0" rx="6.25" ry="5.60"/>
<text class="thin" transform="translate(0 70.6) scale(0.8 1)" x="801.05 818.28 835.52 856.58 870.26 888.04 901.72" font-size="24.6">HQH-1-2</text>
<path class="up" d="M594.7 92.0L609.3 92.0L602.0 80.6Z"/>
<text class="thin" transform="translate(0 96.6) scale(0.8 1)" x="801.05 818.28 835.52 856.58 870.26 888.04 901.72" font-size="24.6">HQH-2-1</text>
<path class="dn" d="M594.7 110.0L609.3 110.0L602.0 121.5Z"/>
<text class="thin" transform="translate(0 122.6) scale(0.8 1)" x="801.05 818.28 835.52 856.58 870.26 888.04 901.72" font-size="24.6">HQH-2-2</text>
<path class="di" d="M594.3 140.0L602.0 132.9L609.7 140.0L602.0 147.1Z"/>
<text class="thin" transform="translate(0 148.6) scale(0.8 1)" x="801.05 818.28 835.52 856.58 870.26 888.04 901.72" font-size="24.6">HQH-3-1</text>
<path class="lt" d="M593.3 166.0L606.8 159.5L606.8 172.5Z"/>
<text class="thin" transform="translate(0 174.6) scale(0.8 1)" x="801.05 818.28 835.52 856.58 870.26 888.04 901.72" font-size="24.6">HQH-3-2</text>
<text class="cap" transform="translate(417 640.6) scale(1 1.05)">(a)</text>
</g>
<g id="plot-b">
<path d="M947.8 7.6H1642.9V511.7" fill="none" stroke="#8c8c8c" stroke-width="1.3"/>
<path d="M948.15 6.6V521.1" fill="none" stroke="#000" stroke-width="2.5"/>
<path d="M936.4 511.7H1644.5" fill="none" stroke="#000" stroke-width="2.3"/>
<path d="M936.4 427.7H947.8M936.4 343.7H947.8M936.4 259.6H947.8M936.4 175.6H947.8M936.4 91.6H947.8M936.4 7.6H947.8" fill="none" stroke="#000" stroke-width="2.1"/>
<path d="M1102.62 511.7V521.1M1257.08 511.7V521.1M1411.55 511.7V521.1M1566.02 511.7V521.1M1025.38 511.7V516.5M1179.85 511.7V516.5M1334.32 511.7V516.5M1488.78 511.7V516.5M1643.25 511.7V516.5" fill="none" stroke="#000" stroke-width="2.5"/>
<clipPath id="clip-b"><rect x="948.3" y="7.6" width="695.1" height="504.1"/></clipPath>
<g clip-path="url(#clip-b)">
<rect class="sq" x="1578.7" y="472.4" width="11.3" height="9.9"/>
<rect class="sq" x="1526.0" y="470.5" width="11.3" height="9.9"/>
<rect class="sq" x="1473.7" y="469.3" width="11.3" height="9.9"/>
<rect class="sq" x="1421.0" y="467.5" width="11.3" height="9.9"/>
<rect class="sq" x="1367.7" y="465.9" width="11.3" height="9.9"/>
<rect class="sq" x="1314.6" y="464.1" width="11.3" height="9.9"/>
<rect class="sq" x="1261.4" y="461.3" width="11.3" height="9.9"/>
<rect class="sq" x="1208.0" y="459.0" width="11.3" height="9.9"/>
<rect class="sq" x="1116.4" y="452.6" width="11.3" height="9.9"/>
<rect class="sq" x="1082.3" y="449.0" width="11.3" height="9.9"/>
<rect class="sq" x="1054.6" y="445.3" width="11.3" height="9.9"/>
<rect class="sq" x="1033.3" y="441.7" width="11.3" height="9.9"/>
<rect class="sq" x="1015.1" y="437.5" width="11.3" height="9.9"/>
<rect class="sq" x="1001.5" y="433.9" width="11.3" height="9.9"/>
<rect class="sq" x="989.7" y="429.3" width="11.3" height="9.9"/>
<rect class="sq" x="979.7" y="425.5" width="11.3" height="9.9"/>
<rect class="sq" x="972.3" y="422.2" width="11.3" height="9.9"/>
<rect class="sq" x="966.3" y="418.7" width="11.3" height="9.9"/>
<rect class="sq" x="961.6" y="415.1" width="11.3" height="9.9"/>
<rect class="sq" x="957.8" y="411.5" width="11.3" height="9.9"/>
<rect class="sq" x="954.7" y="407.8" width="11.3" height="9.9"/>
<rect class="sq" x="952.2" y="404.5" width="11.3" height="9.9"/>
<rect class="sq" x="950.2" y="401.6" width="11.3" height="9.9"/>
<rect class="sq" x="948.6" y="396.9" width="11.3" height="9.9"/>
<rect class="sq" x="947.4" y="391.0" width="11.3" height="9.9"/>
<rect class="sq" x="946.3" y="384.2" width="11.3" height="9.9"/>
<rect class="sq" x="945.5" y="377.3" width="11.3" height="9.9"/>
<rect class="sq" x="944.9" y="370.2" width="11.3" height="9.9"/>
<rect class="sq" x="944.3" y="363.1" width="11.3" height="9.9"/>
<rect class="sq" x="943.9" y="356.1" width="11.3" height="9.9"/>
<rect class="sq" x="943.6" y="350.7" width="11.3" height="9.9"/>
<rect class="sq" x="943.3" y="347.5" width="11.3" height="9.9"/>
<rect class="sq" x="943.1" y="344.3" width="11.3" height="9.9"/>
<rect class="sq" x="942.9" y="341.1" width="11.3" height="9.9"/>
<rect class="sq" x="942.7" y="337.7" width="11.3" height="9.9"/>
<rect class="sq" x="942.6" y="334.0" width="11.3" height="9.9"/>
<rect class="sq" x="942.5" y="330.2" width="11.3" height="9.9"/>
<rect class="sq" x="942.5" y="326.5" width="11.3" height="9.9"/>
<rect class="sq" x="942.4" y="322.7" width="11.3" height="9.9"/>
<rect class="sq" x="942.3" y="318.9" width="11.3" height="9.9"/>
<rect class="sq" x="942.3" y="315.2" width="11.3" height="9.9"/>
<rect class="sq" x="942.3" y="311.4" width="11.3" height="9.9"/>
<rect class="sq" x="942.3" y="307.7" width="11.3" height="9.9"/>
<rect class="sq" x="942.2" y="303.9" width="11.3" height="9.9"/>
<rect class="sq" x="942.2" y="300.1" width="11.3" height="9.9"/>
<rect class="sq" x="942.2" y="296.4" width="11.3" height="9.9"/>
<rect class="sq" x="942.2" y="292.6" width="11.3" height="9.9"/>
<rect class="sq" x="942.2" y="288.9" width="11.3" height="9.9"/>
<rect class="sq" x="942.2" y="285.1" width="11.3" height="9.9"/>
<rect class="sq" x="942.2" y="281.4" width="11.3" height="9.9"/>
<rect class="sq" x="942.2" y="277.6" width="11.3" height="9.9"/>
<rect class="sq" x="942.2" y="273.8" width="11.3" height="9.9"/>
<rect class="sq" x="942.2" y="270.1" width="11.3" height="9.9"/>
<rect class="sq" x="942.2" y="266.3" width="11.3" height="9.9"/>
<rect class="sq" x="942.2" y="262.6" width="11.3" height="9.9"/>
<rect class="sq" x="942.2" y="259.7" width="11.3" height="9.9"/>
<rect class="sq" x="942.2" y="182.0" width="11.3" height="9.9"/>
<rect class="sq" x="942.2" y="208.1" width="11.3" height="9.9"/>
<ellipse class="ci" cx="1426.6" cy="423.7" rx="6.25" ry="5.60"/>
<ellipse class="ci" cx="1373.4" cy="422.1" rx="6.25" ry="5.60"/>
<ellipse class="ci" cx="1320.2" cy="420.5" rx="6.25" ry="5.60"/>
<ellipse class="ci" cx="1267.1" cy="418.7" rx="6.25" ry="5.60"/>
<ellipse class="ci" cx="1213.6" cy="416.6" rx="6.25" ry="5.60"/>
<ellipse class="ci" cx="1122.0" cy="412.0" rx="6.25" ry="5.60"/>
<ellipse class="ci" cx="1087.9" cy="409.7" rx="6.25" ry="5.60"/>
<ellipse class="ci" cx="1060.3" cy="407.4" rx="6.25" ry="5.60"/>
<ellipse class="ci" cx="1038.9" cy="405.0" rx="6.25" ry="5.60"/>
<ellipse class="ci" cx="1020.7" cy="402.5" rx="6.25" ry="5.60"/>
<ellipse class="ci" cx="1007.1" cy="400.3" rx="6.25" ry="5.60"/>
<ellipse class="ci" cx="995.4" cy="398.1" rx="6.25" ry="5.60"/>
<ellipse class="ci" cx="985.3" cy="395.8" rx="6.25" ry="5.60"/>
<ellipse class="ci" cx="977.9" cy="394.0" rx="6.25" ry="5.60"/>
<ellipse class="ci" cx="972.0" cy="392.1" rx="6.25" ry="5.60"/>
<ellipse class="ci" cx="967.2" cy="390.0" rx="6.25" ry="5.60"/>
<ellipse class="ci" cx="963.4" cy="388.2" rx="6.25" ry="5.60"/>
<ellipse class="ci" cx="960.3" cy="386.7" rx="6.25" ry="5.60"/>
<ellipse class="ci" cx="957.9" cy="385.4" rx="6.25" ry="5.60"/>
<ellipse class="ci" cx="955.9" cy="383.8" rx="6.25" ry="5.60"/>
<ellipse class="ci" cx="954.3" cy="382.1" rx="6.25" ry="5.60"/>
<ellipse class="ci" cx="953.0" cy="380.2" rx="6.25" ry="5.60"/>
<ellipse class="ci" cx="952.0" cy="378.3" rx="6.25" ry="5.60"/>
<ellipse class="ci" cx="951.2" cy="377.0" rx="6.25" ry="5.60"/>
<ellipse class="ci" cx="950.5" cy="375.7" rx="6.25" ry="5.60"/>
<ellipse class="ci" cx="950.0" cy="374.4" rx="6.25" ry="5.60"/>
<ellipse class="ci" cx="949.5" cy="371.3" rx="6.25" ry="5.60"/>
<ellipse class="ci" cx="949.2" cy="367.2" rx="6.25" ry="5.60"/>
<ellipse class="ci" cx="948.9" cy="363.2" rx="6.25" ry="5.60"/>
<ellipse class="ci" cx="948.7" cy="359.1" rx="6.25" ry="5.60"/>
<ellipse class="ci" cx="948.5" cy="355.1" rx="6.25" ry="5.60"/>
<ellipse class="ci" cx="948.4" cy="350.9" rx="6.25" ry="5.60"/>
<ellipse class="ci" cx="948.3" cy="346.5" rx="6.25" ry="5.60"/>
<ellipse class="ci" cx="948.2" cy="342.1" rx="6.25" ry="5.60"/>
<ellipse class="ci" cx="948.1" cy="337.7" rx="6.25" ry="5.60"/>
<ellipse class="ci" cx="948.0" cy="333.3" rx="6.25" ry="5.60"/>
<ellipse class="ci" cx="948.0" cy="328.9" rx="6.25" ry="5.60"/>
<ellipse class="ci" cx="948.0" cy="324.5" rx="6.25" ry="5.60"/>
<ellipse class="ci" cx="947.9" cy="320.1" rx="6.25" ry="5.60"/>
<ellipse class="ci" cx="947.9" cy="315.7" rx="6.25" ry="5.60"/>
<ellipse class="ci" cx="947.9" cy="311.3" rx="6.25" ry="5.60"/>
<ellipse class="ci" cx="947.9" cy="306.9" rx="6.25" ry="5.60"/>
<ellipse class="ci" cx="947.9" cy="302.5" rx="6.25" ry="5.60"/>
<ellipse class="ci" cx="947.8" cy="298.1" rx="6.25" ry="5.60"/>
<ellipse class="ci" cx="947.8" cy="293.7" rx="6.25" ry="5.60"/>
<ellipse class="ci" cx="947.8" cy="289.3" rx="6.25" ry="5.60"/>
<ellipse class="ci" cx="947.8" cy="284.9" rx="6.25" ry="5.60"/>
<ellipse class="ci" cx="947.8" cy="280.5" rx="6.25" ry="5.60"/>
<ellipse class="ci" cx="947.8" cy="276.1" rx="6.25" ry="5.60"/>
<ellipse class="ci" cx="947.8" cy="271.8" rx="6.25" ry="5.60"/>
<ellipse class="ci" cx="947.8" cy="267.4" rx="6.25" ry="5.60"/>
<ellipse class="ci" cx="947.8" cy="263.0" rx="6.25" ry="5.60"/>
<ellipse class="ci" cx="947.8" cy="259.6" rx="6.25" ry="5.60"/>
<ellipse class="ci" cx="1554.2" cy="425.9" rx="6.25" ry="5.60"/>
<ellipse class="ci" cx="1480.4" cy="424.4" rx="6.25" ry="5.60"/>
<ellipse class="ci" cx="1533.4" cy="425.2" rx="6.25" ry="5.60"/>
<path class="up" d="M1577.0 413.8L1591.7 413.8L1584.4 402.4Z"/>
<path class="up" d="M1524.4 412.0L1539.0 412.0L1531.7 400.6Z"/>
<path class="up" d="M1472.0 410.9L1486.6 410.9L1479.3 399.5Z"/>
<path class="up" d="M1419.3 409.6L1434.0 409.6L1426.6 398.2Z"/>
<path class="up" d="M1366.0 407.9L1380.7 407.9L1373.4 396.5Z"/>
<path class="up" d="M1312.9 406.2L1327.5 406.2L1320.2 394.8Z"/>
<path class="up" d="M1259.8 403.8L1274.4 403.8L1267.1 392.4Z"/>
<path class="up" d="M1206.3 401.6L1221.0 401.6L1213.6 390.2Z"/>
<path class="up" d="M1153.2 398.5L1167.8 398.5L1160.5 387.1Z"/>
<path class="up" d="M1114.7 395.8L1129.4 395.8L1122.0 384.4Z"/>
<path class="up" d="M1080.6 392.7L1095.2 392.7L1087.9 381.3Z"/>
<path class="up" d="M1052.9 389.9L1067.6 389.9L1060.3 378.5Z"/>
<path class="up" d="M1031.6 387.0L1046.3 387.0L1038.9 375.6Z"/>
<path class="up" d="M1013.4 383.7L1028.0 383.7L1020.7 372.3Z"/>
<path class="up" d="M999.8 381.2L1014.4 381.2L1007.1 369.8Z"/>
<path class="up" d="M988.0 378.1L1002.7 378.1L995.4 366.7Z"/>
<path class="up" d="M978.0 375.5L992.7 375.5L985.3 364.0Z"/>
<path class="up" d="M970.6 372.4L985.2 372.4L977.9 361.0Z"/>
<path class="up" d="M964.7 369.3L979.3 369.3L972.0 357.9Z"/>
<path class="up" d="M959.9 366.1L974.6 366.1L967.2 354.7Z"/>
<path class="up" d="M956.1 363.0L970.7 363.0L963.4 351.6Z"/>
<path class="up" d="M953.0 359.9L967.7 359.9L960.3 348.4Z"/>
<path class="up" d="M950.5 356.7L965.2 356.7L957.9 345.3Z"/>
<path class="up" d="M948.6 353.6L963.2 353.6L955.9 342.2Z"/>
<path class="up" d="M947.0 350.4L961.6 350.4L954.3 339.0Z"/>
<path class="up" d="M945.7 347.7L960.3 347.7L953.0 336.3Z"/>
<path class="up" d="M944.7 345.9L959.3 345.9L952.0 334.5Z"/>
<path class="up" d="M943.8 344.2L958.5 344.2L951.2 332.7Z"/>
<path class="up" d="M943.2 342.4L957.8 342.4L950.5 331.0Z"/>
<path class="up" d="M942.6 340.6L957.3 340.6L950.0 329.2Z"/>
<path class="up" d="M942.2 338.9L956.9 338.9L949.5 327.4Z"/>
<path class="up" d="M941.9 337.2L956.5 337.2L949.2 325.8Z"/>
<path class="up" d="M941.6 335.5L956.3 335.5L948.9 324.1Z"/>
<path class="up" d="M941.4 333.8L956.0 333.8L948.7 322.4Z"/>
<path class="up" d="M941.2 332.1L955.9 332.1L948.5 320.7Z"/>
<path class="up" d="M941.1 330.1L955.7 330.1L948.4 318.7Z"/>
<path class="up" d="M940.9 326.9L955.6 326.9L948.3 315.5Z"/>
<path class="up" d="M940.8 323.7L955.5 323.7L948.2 312.3Z"/>
<path class="up" d="M940.8 320.5L955.4 320.5L948.1 309.1Z"/>
<path class="up" d="M940.7 317.3L955.4 317.3L948.0 305.9Z"/>
<path class="up" d="M940.7 314.1L955.3 314.1L948.0 302.7Z"/>
<path class="up" d="M940.6 310.9L955.3 310.9L948.0 299.5Z"/>
<path class="up" d="M940.6 307.7L955.3 307.7L947.9 296.3Z"/>
<path class="up" d="M940.6 304.5L955.2 304.5L947.9 293.1Z"/>
<path class="up" d="M940.6 301.3L955.2 301.3L947.9 289.9Z"/>
<path class="up" d="M940.5 298.1L955.2 298.1L947.9 286.7Z"/>
<path class="up" d="M940.5 294.9L955.2 294.9L947.9 283.5Z"/>
<path class="up" d="M940.5 291.7L955.2 291.7L947.8 280.3Z"/>
<path class="up" d="M940.5 288.5L955.2 288.5L947.8 277.1Z"/>
<path class="up" d="M940.5 285.3L955.2 285.3L947.8 273.9Z"/>
<path class="up" d="M940.5 282.1L955.1 282.1L947.8 270.7Z"/>
<path class="up" d="M940.5 278.9L955.1 278.9L947.8 267.5Z"/>
<path class="up" d="M940.5 275.7L955.1 275.7L947.8 264.3Z"/>
<path class="up" d="M940.5 272.5L955.1 272.5L947.8 261.1Z"/>
<path class="up" d="M940.5 269.3L955.1 269.3L947.8 257.9Z"/>
<path class="up" d="M940.5 266.1L955.1 266.1L947.8 254.7Z"/>
<path class="up" d="M940.5 263.7L955.1 263.7L947.8 252.3Z"/>
<path class="up" d="M940.5 204.6L955.1 204.6L947.8 193.1Z"/>
<path class="up" d="M940.5 242.0L955.1 242.0L947.8 230.6Z"/>
<path class="dn" d="M1577.0 446.2L1591.7 446.2L1584.4 457.6Z"/>
<path class="dn" d="M1524.4 445.0L1539.0 445.0L1531.7 456.4Z"/>
<path class="dn" d="M1472.0 443.9L1486.6 443.9L1479.3 455.3Z"/>
<path class="dn" d="M1419.3 442.1L1434.0 442.1L1426.6 453.5Z"/>
<path class="dn" d="M1366.0 440.4L1380.7 440.4L1373.4 451.8Z"/>
<path class="dn" d="M1312.9 438.4L1327.5 438.4L1320.2 449.8Z"/>
<path class="dn" d="M1259.8 436.6L1274.4 436.6L1267.1 448.0Z"/>
<path class="dn" d="M1206.3 433.8L1221.0 433.8L1213.6 445.2Z"/>
<path class="dn" d="M1153.2 430.5L1167.8 430.5L1160.5 441.9Z"/>
<path class="dn" d="M1114.7 427.7L1129.4 427.7L1122.0 439.1Z"/>
<path class="dn" d="M1080.6 424.2L1095.2 424.2L1087.9 435.6Z"/>
<path class="dn" d="M1052.9 420.8L1067.6 420.8L1060.3 432.2Z"/>
<path class="dn" d="M1031.6 417.4L1046.3 417.4L1038.9 428.8Z"/>
<path class="dn" d="M1013.4 413.5L1028.0 413.5L1020.7 424.9Z"/>
<path class="dn" d="M999.8 410.2L1014.4 410.2L1007.1 421.6Z"/>
<path class="dn" d="M988.0 406.5L1002.7 406.5L995.4 417.9Z"/>
<path class="dn" d="M978.0 402.6L992.7 402.6L985.3 414.1Z"/>
<path class="dn" d="M970.6 399.2L985.2 399.2L977.9 410.6Z"/>
<path class="dn" d="M964.7 396.4L979.3 396.4L972.0 407.8Z"/>
<path class="dn" d="M959.9 393.2L974.6 393.2L967.2 404.6Z"/>
<path class="dn" d="M956.1 389.9L970.7 389.9L963.4 401.3Z"/>
<path class="dn" d="M953.0 386.5L967.7 386.5L960.3 397.9Z"/>
<path class="dn" d="M950.5 383.1L965.2 383.1L957.9 394.5Z"/>
<path class="dn" d="M948.6 379.9L963.2 379.9L955.9 391.3Z"/>
<path class="dn" d="M947.0 376.9L961.6 376.9L954.3 388.3Z"/>
<path class="dn" d="M945.7 374.5L960.3 374.5L953.0 385.9Z"/>
<path class="dn" d="M944.7 372.3L959.3 372.3L952.0 383.7Z"/>
<path class="dn" d="M943.8 371.0L958.5 371.0L951.2 382.4Z"/>
<path class="dn" d="M943.2 369.7L957.8 369.7L950.5 381.1Z"/>
<path class="dn" d="M942.6 368.4L957.3 368.4L950.0 379.8Z"/>
<path class="dn" d="M942.2 365.3L956.9 365.3L949.5 376.7Z"/>
<path class="dn" d="M941.9 361.1L956.5 361.1L949.2 372.5Z"/>
<path class="dn" d="M941.6 357.0L956.3 357.0L948.9 368.4Z"/>
<path class="dn" d="M941.4 352.8L956.0 352.8L948.7 364.2Z"/>
<path class="dn" d="M941.2 348.7L955.9 348.7L948.5 360.1Z"/>
<path class="dn" d="M941.1 344.5L955.7 344.5L948.4 355.9Z"/>
<path class="dn" d="M940.9 340.2L955.6 340.2L948.3 351.6Z"/>
<path class="dn" d="M940.8 335.9L955.5 335.9L948.2 347.3Z"/>
<path class="dn" d="M940.8 331.6L955.4 331.6L948.1 343.1Z"/>
<path class="dn" d="M940.7 327.4L955.4 327.4L948.0 338.8Z"/>
<path class="dn" d="M940.7 323.1L955.3 323.1L948.0 334.5Z"/>
<path class="dn" d="M940.6 318.8L955.3 318.8L948.0 330.2Z"/>
<path class="dn" d="M940.6 314.5L955.3 314.5L947.9 325.9Z"/>
<path class="dn" d="M940.6 310.2L955.2 310.2L947.9 321.7Z"/>
<path class="dn" d="M940.6 306.0L955.2 306.0L947.9 317.4Z"/>
<path class="dn" d="M940.5 301.7L955.2 301.7L947.9 313.1Z"/>
<path class="dn" d="M940.5 297.4L955.2 297.4L947.9 308.8Z"/>
<path class="dn" d="M940.5 293.1L955.2 293.1L947.8 304.6Z"/>
<path class="dn" d="M940.5 288.9L955.2 288.9L947.8 300.3Z"/>
<path class="dn" d="M940.5 284.6L955.2 284.6L947.8 296.0Z"/>
<path class="dn" d="M940.5 280.3L955.1 280.3L947.8 291.7Z"/>
<path class="dn" d="M940.5 276.0L955.1 276.0L947.8 287.4Z"/>
<path class="dn" d="M940.5 271.7L955.1 271.7L947.8 283.2Z"/>
<path class="dn" d="M940.5 267.5L955.1 267.5L947.8 278.9Z"/>
<path class="dn" d="M940.5 263.2L955.1 263.2L947.8 274.6Z"/>
<path class="dn" d="M940.5 258.9L955.1 258.9L947.8 270.3Z"/>
<path class="dn" d="M940.5 255.7L955.1 255.7L947.8 267.1Z"/>
<path class="dn" d="M940.5 179.4L955.1 179.4L947.8 190.8Z"/>
<path class="dn" d="M940.5 237.0L955.1 237.0L947.8 248.5Z"/>
<path class="di" d="M1576.6 463.6L1584.4 456.6L1592.1 463.6L1584.4 470.7Z"/>
<path class="di" d="M1523.9 462.4L1531.7 455.3L1539.4 462.4L1531.7 469.5Z"/>
<path class="di" d="M1471.6 461.3L1479.3 454.2L1487.1 461.3L1479.3 468.4Z"/>
<path class="di" d="M1418.9 460.0L1426.6 452.9L1434.4 460.0L1426.6 467.1Z"/>
<path class="di" d="M1365.6 458.5L1373.4 451.4L1381.1 458.5L1373.4 465.6Z"/>
<path class="di" d="M1312.5 456.5L1320.2 449.4L1328.0 456.5L1320.2 463.6Z"/>
<path class="di" d="M1259.3 454.5L1267.1 447.4L1274.8 454.5L1267.1 461.6Z"/>
<path class="di" d="M1205.9 452.1L1213.6 445.0L1221.4 452.1L1213.6 459.2Z"/>
<path class="di" d="M1152.8 449.1L1160.5 442.0L1168.2 449.1L1160.5 456.2Z"/>
<path class="di" d="M1114.3 446.2L1122.0 439.1L1129.8 446.2L1122.0 453.3Z"/>
<path class="di" d="M1080.2 443.0L1087.9 435.9L1095.6 443.0L1087.9 450.1Z"/>
<path class="di" d="M1052.5 440.1L1060.3 433.0L1068.0 440.1L1060.3 447.1Z"/>
<path class="di" d="M1031.2 438.2L1038.9 431.1L1046.7 438.2L1038.9 445.3Z"/>
<path class="di" d="M1013.0 436.0L1020.7 428.9L1028.4 436.0L1020.7 443.1Z"/>
<path class="di" d="M999.4 433.3L1007.1 426.3L1014.8 433.3L1007.1 440.4Z"/>
<path class="di" d="M987.6 430.0L995.4 422.9L1003.1 430.0L995.4 437.1Z"/>
<path class="di" d="M977.6 427.0L985.3 419.9L993.1 427.0L985.3 434.1Z"/>
<path class="di" d="M970.2 424.3L977.9 417.2L985.7 424.3L977.9 431.4Z"/>
<path class="di" d="M964.3 421.7L972.0 414.6L979.7 421.7L972.0 428.7Z"/>
<path class="di" d="M959.5 418.6L967.2 411.5L975.0 418.6L967.2 425.7Z"/>
<path class="di" d="M955.7 415.4L963.4 408.3L971.1 415.4L963.4 422.5Z"/>
<path class="di" d="M952.6 412.1L960.3 405.0L968.1 412.1L960.3 419.2Z"/>
<path class="di" d="M950.1 409.1L957.9 402.0L965.6 409.1L957.9 416.2Z"/>
<path class="di" d="M948.2 406.5L955.9 399.4L963.6 406.5L955.9 413.5Z"/>
<path class="di" d="M946.6 401.9L954.3 394.8L962.0 401.9L954.3 409.0Z"/>
<path class="di" d="M945.3 396.0L953.0 389.0L960.8 396.0L953.0 403.1Z"/>
<path class="di" d="M944.3 389.2L952.0 382.1L959.7 389.2L952.0 396.3Z"/>
<path class="di" d="M943.4 382.2L951.2 375.2L958.9 382.2L951.2 389.3Z"/>
<path class="di" d="M942.8 375.1L950.5 368.1L958.2 375.1L950.5 382.2Z"/>
<path class="di" d="M942.2 368.1L950.0 361.0L957.7 368.1L950.0 375.2Z"/>
<path class="di" d="M941.8 361.0L949.5 353.9L957.3 361.0L949.5 368.1Z"/>
<path class="di" d="M941.5 355.7L949.2 348.6L956.9 355.7L949.2 362.8Z"/>
<path class="di" d="M941.2 352.5L948.9 345.4L956.7 352.5L948.9 359.6Z"/>
<path class="di" d="M941.0 349.2L948.7 342.2L956.4 349.2L948.7 356.3Z"/>
<path class="di" d="M940.8 346.0L948.5 338.9L956.3 346.0L948.5 353.1Z"/>
<path class="di" d="M940.6 343.0L948.4 335.9L956.1 343.0L948.4 350.1Z"/>
<path class="di" d="M940.5 340.3L948.3 333.2L956.0 340.3L948.3 347.4Z"/>
<path class="di" d="M940.4 337.7L948.2 330.6L955.9 337.7L948.2 344.8Z"/>
<path class="di" d="M940.4 335.1L948.1 328.0L955.8 335.1L948.1 342.1Z"/>
<path class="di" d="M940.3 332.4L948.0 325.3L955.8 332.4L948.0 339.5Z"/>
<path class="di" d="M940.3 329.8L948.0 322.7L955.7 329.8L948.0 336.9Z"/>
<path class="di" d="M940.2 327.1L948.0 320.1L955.7 327.1L948.0 334.2Z"/>
<path class="di" d="M940.2 324.5L947.9 317.4L955.7 324.5L947.9 331.6Z"/>
<path class="di" d="M940.2 321.9L947.9 314.8L955.6 321.9L947.9 329.0Z"/>
<path class="di" d="M940.1 319.2L947.9 312.1L955.6 319.2L947.9 326.3Z"/>
<path class="di" d="M940.1 316.6L947.9 309.5L955.6 316.6L947.9 323.7Z"/>
<path class="di" d="M940.1 313.9L947.9 306.9L955.6 313.9L947.9 321.0Z"/>
<path class="di" d="M940.1 311.3L947.8 304.2L955.6 311.3L947.8 318.4Z"/>
<path class="di" d="M940.1 308.7L947.8 301.6L955.6 308.7L947.8 315.8Z"/>
<path class="di" d="M940.1 306.0L947.8 298.9L955.6 306.0L947.8 313.1Z"/>
<path class="di" d="M940.1 303.4L947.8 296.3L955.6 303.4L947.8 310.5Z"/>
<path class="di" d="M940.1 300.8L947.8 293.7L955.6 300.8L947.8 307.8Z"/>
<path class="di" d="M940.1 298.1L947.8 291.0L955.5 298.1L947.8 305.2Z"/>
<path class="di" d="M940.1 295.5L947.8 288.4L955.5 295.5L947.8 302.6Z"/>
<path class="di" d="M940.1 292.8L947.8 285.7L955.5 292.8L947.8 299.9Z"/>
<path class="di" d="M940.1 290.2L947.8 283.1L955.5 290.2L947.8 297.3Z"/>
<path class="di" d="M940.1 288.2L947.8 281.1L955.5 288.2L947.8 295.3Z"/>
<path class="di" d="M940.1 252.1L947.8 245.0L955.5 252.1L947.8 259.2Z"/>
<path class="lt" d="M1576.6 477.0L1590.0 470.5L1590.0 483.5Z"/>
<path class="lt" d="M1523.9 475.2L1537.4 468.6L1537.4 481.7Z"/>
<path class="lt" d="M1471.6 473.9L1485.0 467.4L1485.0 480.4Z"/>
<path class="lt" d="M1418.9 472.1L1432.3 465.6L1432.3 478.7Z"/>
<path class="lt" d="M1365.6 470.6L1379.0 464.0L1379.0 477.1Z"/>
<path class="lt" d="M1312.5 468.7L1325.9 462.2L1325.9 475.2Z"/>
<path class="lt" d="M1259.3 465.9L1272.8 459.4L1272.8 472.4Z"/>
<path class="lt" d="M1205.9 463.6L1219.3 457.1L1219.3 470.2Z"/>
<path class="lt" d="M1151.8 460.2L1165.3 453.7L1165.3 466.7Z"/>
<path class="lt" d="M1114.3 457.2L1127.7 450.7L1127.7 463.7Z"/>
<path class="lt" d="M1080.2 453.6L1093.6 447.1L1093.6 460.2Z"/>
<path class="lt" d="M1052.5 450.2L1065.9 443.7L1065.9 456.8Z"/>
<path class="lt" d="M1031.2 447.1L1044.6 440.6L1044.6 453.6Z"/>
<path class="lt" d="M1012.0 442.9L1025.5 436.3L1025.5 449.4Z"/>
<path class="lt" d="M998.4 438.8L1011.9 432.2L1011.9 445.3Z"/>
<path class="lt" d="M986.7 434.0L1000.1 427.5L1000.1 440.5Z"/>
<path class="lt" d="M976.7 430.2L990.1 423.6L990.1 436.7Z"/>
<path class="lt" d="M969.2 426.9L982.7 420.3L982.7 433.4Z"/>
<path class="lt" d="M963.3 423.4L976.7 416.9L976.7 430.0Z"/>
<path class="lt" d="M958.6 419.8L972.0 413.3L972.0 426.4Z"/>
<path class="lt" d="M954.7 416.3L968.2 409.7L968.2 422.8Z"/>
<path class="lt" d="M951.7 412.9L965.1 406.3L965.1 419.4Z"/>
<path class="lt" d="M949.2 409.8L962.6 403.3L962.6 416.3Z"/>
<path class="lt" d="M947.2 407.0L960.6 400.4L960.6 413.5Z"/>
<path class="lt" d="M945.6 402.2L959.0 395.6L959.0 408.7Z"/>
<path class="lt" d="M944.3 396.1L957.8 389.5L957.8 402.6Z"/>
<path class="lt" d="M943.3 389.2L956.7 382.7L956.7 395.8Z"/>
<path class="lt" d="M942.5 382.2L955.9 375.7L955.9 388.8Z"/>
<path class="lt" d="M941.8 375.1L955.3 368.6L955.3 381.7Z"/>
<path class="lt" d="M941.3 368.1L954.7 361.5L954.7 374.6Z"/>
<path class="lt" d="M940.9 361.0L954.3 354.5L954.3 367.6Z"/>
<path class="lt" d="M940.5 355.7L954.0 349.1L954.0 362.2Z"/>
<path class="lt" d="M940.3 352.5L953.7 345.9L953.7 359.0Z"/>
<path class="lt" d="M940.0 349.2L953.5 342.7L953.5 355.8Z"/>
<path class="lt" d="M939.9 346.0L953.3 339.5L953.3 352.6Z"/>
<path class="lt" d="M939.7 342.7L953.1 336.1L953.1 349.2Z"/>
<path class="lt" d="M939.6 338.9L953.0 332.4L953.0 345.4Z"/>
<path class="lt" d="M939.5 335.2L952.9 328.6L952.9 341.7Z"/>
<path class="lt" d="M939.4 331.4L952.9 324.9L952.9 337.9Z"/>
<path class="lt" d="M939.4 327.6L952.8 321.1L952.8 334.2Z"/>
<path class="lt" d="M939.3 323.9L952.7 317.4L952.7 330.4Z"/>
<path class="lt" d="M939.3 320.1L952.7 313.6L952.7 326.7Z"/>
<path class="lt" d="M939.3 316.4L952.7 309.8L952.7 322.9Z"/>
<path class="lt" d="M939.2 312.6L952.7 306.1L952.7 319.1Z"/>
<path class="lt" d="M939.2 308.9L952.6 302.3L952.6 315.4Z"/>
<path class="lt" d="M939.2 305.1L952.6 298.6L952.6 311.6Z"/>
<path class="lt" d="M939.2 301.3L952.6 294.8L952.6 307.9Z"/>
<path class="lt" d="M939.2 297.6L952.6 291.0L952.6 304.1Z"/>
<path class="lt" d="M939.2 293.8L952.6 287.3L952.6 300.4Z"/>
<path class="lt" d="M939.2 290.1L952.6 283.5L952.6 296.6Z"/>
<path class="lt" d="M939.2 286.3L952.6 279.8L952.6 292.8Z"/>
<path class="lt" d="M939.1 282.5L952.6 276.0L952.6 289.1Z"/>
<path class="lt" d="M939.1 278.8L952.6 272.3L952.6 285.3Z"/>
<path class="lt" d="M939.1 275.0L952.6 268.5L952.6 281.6Z"/>
<path class="lt" d="M939.1 271.3L952.6 264.7L952.6 277.8Z"/>
<path class="lt" d="M939.1 267.5L952.6 261.0L952.6 274.0Z"/>
<path class="lt" d="M939.1 264.7L952.6 258.2L952.6 271.2Z"/>
<path class="lt" d="M939.1 205.6L952.6 199.1L952.6 212.2Z"/>
<path class="lt" d="M939.1 210.9L952.6 204.4L952.6 217.5Z"/>
</g>
<g class="thin tick">
<text transform="translate(923.2 519.6) scale(1.1 1)">1</text>
<text transform="translate(923.2 435.6) scale(1.1 1)">2</text>
<text transform="translate(923.2 351.6) scale(1.1 1)">3</text>
<text transform="translate(923.2 267.5) scale(1.1 1)">4</text>
<text transform="translate(923.2 183.5) scale(1.1 1)">5</text>
<text transform="translate(923.2 99.5) scale(1.1 1)">6</text>
<text transform="translate(923.2 15.5) scale(1.1 1)">7</text>
<text transform="translate(947.8 546.6) scale(1.1 1)">0</text>
<text transform="translate(1102.3 546.6) scale(1.1 1)">100</text>
<text transform="translate(1256.7 546.6) scale(1.1 1)">200</text>
<text transform="translate(1411.2 546.6) scale(1.1 1)">300</text>
<text transform="translate(1565.7 546.6) scale(1.1 1)">400</text>
</g>
<text class="thin" font-size="28.4" y="581.4"><tspan x="1192.66 1210.76 1223.49 1238.89 1253.20 1266.56 1283.55 1296.28 1314.65">Pressure </tspan><tspan x="1328.34" y="579.0" font-size="28">(</tspan><tspan x="1337.19" y="581.4" font-size="28" textLength="42.41" lengthAdjust="spacingAndGlyphs">MPa</tspan><tspan x="1381.74" y="579.0" font-size="28">)</tspan></text>
<text class="thin" transform="translate(907.3 0) rotate(-90) scale(0.85 1)" font-size="30" y="0"><tspan x="-535.85 -518.06 -500.29 -487.10 -469.96 -458.64 -443.38 -428.94 -406.16 -388.38 -375.19 -359.10 -344.24 -328.54 -317.02 -298.82 -285.63 -272.44 -259.25 -247.72 -227.28">Pore compressibility </tspan><tspan x="-209.58" y="-3">(</tspan><tspan x="-199.62 -183.85" y="0">10</tspan><tspan x="-168.06" y="-12.3" font-size="20">3</tspan><tspan x="-159.45" y="0" textLength="45.64" lengthAdjust="spacingAndGlyphs">MPa</tspan><tspan x="-112.23 -101.00" y="-12.3" font-size="20">−1</tspan><tspan x="-90.41" y="-3">)</tspan></text>
<rect class="sq" x="1465.8" y="45.2" width="11.3" height="9.9"/>
<text class="thin" transform="translate(0 58.800000000000004) scale(0.8 1)" x="1889.34 1907.74 1923.41 1944.56 1958.31 1976.17 1989.93" font-size="24.6">NLH-1-1</text>
<ellipse class="ci" cx="1471.4" cy="76.2" rx="6.25" ry="5.60"/>
<text class="thin" transform="translate(0 84.8) scale(0.8 1)" x="1889.34 1907.74 1923.41 1944.56 1958.31 1976.17 1989.93" font-size="24.6">NLH-1-2</text>
<path class="up" d="M1464.1 106.2L1478.7 106.2L1471.4 94.8Z"/>
<text class="thin" transform="translate(0 110.8) scale(0.8 1)" x="1889.34 1907.74 1923.41 1944.56 1958.31 1976.17 1989.93" font-size="24.6">NLH-2-1</text>
<path class="dn" d="M1464.1 124.2L1478.7 124.2L1471.4 135.7Z"/>
<text class="thin" transform="translate(0 136.79999999999998) scale(0.8 1)" x="1889.34 1907.74 1923.41 1944.56 1958.31 1976.17 1989.93" font-size="24.6">NLH-2-2</text>
<path class="di" d="M1463.7 154.2L1471.4 147.1L1479.1 154.2L1471.4 161.3Z"/>
<text class="thin" transform="translate(0 162.79999999999998) scale(0.8 1)" x="1889.34 1907.74 1923.41 1944.56 1958.31 1976.17 1989.93" font-size="24.6">NLH-3-1</text>
<path class="lt" d="M1462.7 180.2L1476.2 173.7L1476.2 186.7Z"/>
<text class="thin" transform="translate(0 188.79999999999998) scale(0.8 1)" x="1889.34 1907.74 1923.41 1944.56 1958.31 1976.17 1989.93" font-size="24.6">NLH-3-2</text>
<text class="cap" transform="translate(1347 640.6) scale(1 1.05)">(b)</text>
</g>
</svg>
</body>
</html>
